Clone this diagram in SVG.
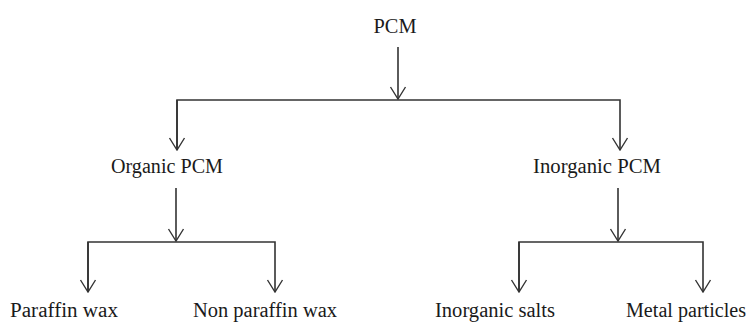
<svg xmlns="http://www.w3.org/2000/svg" width="746" height="322" viewBox="0 0 746 322">
<defs>
<marker id="arr" viewBox="0 0 14 18" refX="13" refY="9" markerWidth="14" markerHeight="18" markerUnits="userSpaceOnUse" orient="auto">
<path d="M1,1.5 L13,9 L1,16.5" fill="none" stroke="#333" stroke-width="1.4"/>
</marker>
</defs>
<style>
.t{font-family:"Liberation Serif","Times New Roman",serif;font-size:20px;fill:#1a1a1a;text-anchor:middle}
.c{fill:none;stroke:#333;stroke-width:1.6}
</style>
<rect width="746" height="322" fill="#fff"/>
<g id="connectors">
<path class="c" d="M398,47 V99" marker-end="url(#arr)"/>
<path class="c" d="M177,150 V100 H620 V150" marker-end="url(#arr)"/>
<path class="c" d="M177,100 V150" marker-end="url(#arr)"/>
<path class="c" d="M176,188 V241" marker-end="url(#arr)"/>
<path class="c" d="M88,292 V242 H275 V292" marker-end="url(#arr)"/>
<path class="c" d="M88,242 V292" marker-end="url(#arr)"/>
<path class="c" d="M618,188 V241" marker-end="url(#arr)"/>
<path class="c" d="M519,292 V242 H703 V292" marker-end="url(#arr)"/>
<path class="c" d="M519,242 V292" marker-end="url(#arr)"/>
</g>
<g id="pcm"><text class="t" x="395" y="33" textLength="43" lengthAdjust="spacingAndGlyphs">PCM</text></g>
<g id="organic"><text class="t" x="167" y="173" textLength="112" lengthAdjust="spacingAndGlyphs">Organic PCM</text></g>
<g id="inorganic"><text class="t" x="597" y="173" textLength="128" lengthAdjust="spacingAndGlyphs">Inorganic PCM</text></g>
<g id="paraffin"><text class="t" x="64" y="317" textLength="108" lengthAdjust="spacingAndGlyphs">Paraffin wax</text></g>
<g id="nonparaffin"><text class="t" x="265" y="317" textLength="144" lengthAdjust="spacingAndGlyphs">Non paraffin wax</text></g>
<g id="salts"><text class="t" x="495" y="317" textLength="120" lengthAdjust="spacingAndGlyphs">Inorganic salts</text></g>
<g id="metal"><text class="t" x="686" y="317" textLength="120" lengthAdjust="spacingAndGlyphs">Metal particles</text></g>
</svg>
